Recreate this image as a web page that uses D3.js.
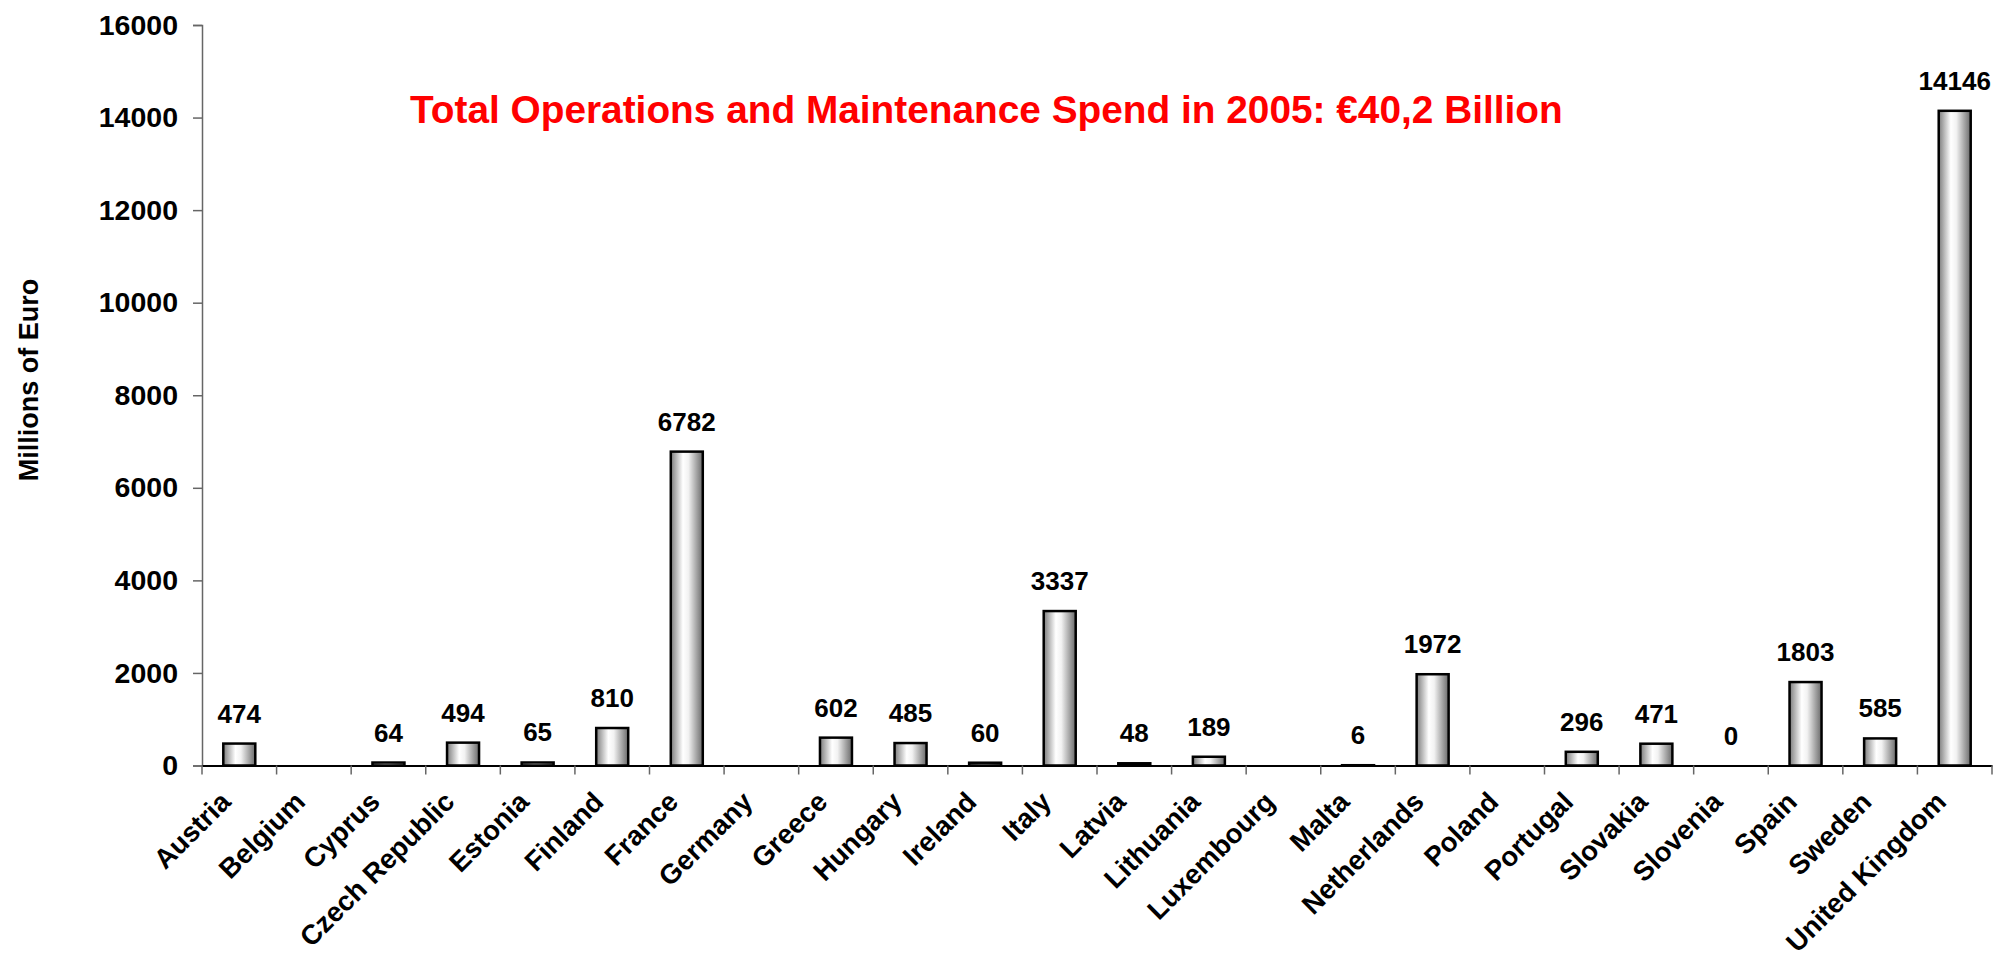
<!DOCTYPE html>
<html>
<head>
<meta charset="utf-8">
<script src="https://cdn.jsdelivr.net/npm/d3@7/dist/d3.min.js"></script>
<style>
  html, body { margin: 0; padding: 0; background: #fff; }
  svg { display: block; font-family: "Liberation Sans", Arial, sans-serif; }
</style>
</head>
<body>
<svg id="chart" width="2009" height="957"></svg>
<script>
const categories = ["Austria","Belgium","Cyprus","Czech Republic","Estonia","Finland","France","Germany","Greece","Hungary","Ireland","Italy","Latvia","Lithuania","Luxembourg","Malta","Netherlands","Poland","Portugal","Slovakia","Slovenia","Spain","Sweden","United Kingdom"];
const values = [474,null,64,494,65,810,6782,null,602,485,60,3337,48,189,null,6,1972,null,296,471,0,1803,585,14146];
const yTicks = [0,2000,4000,6000,8000,10000,12000,14000,16000];
const titleText = "Total Operations and Maintenance Spend in 2005: \u20AC40,2 Billion";
const yTitle = "Millions of Euro";

(function () {
const svg = d3.select("#chart");
const mLeft = 202, mRight = 1992, mTop = 25, mBottom = 765.5;

const x = d3.scaleBand().domain(categories).range([mLeft, mRight]).paddingInner(0).paddingOuter(0);
const y = d3.scaleLinear().domain([0, 16000]).range([mBottom, mTop]);

const defs = svg.append("defs");
const grad = defs.append("linearGradient").attr("id", "barGrad")
  .attr("x1", "0%").attr("x2", "100%").attr("y1", "0%").attr("y2", "0%");
grad.append("stop").attr("offset", "0%").attr("stop-color", "#7c7c7c");
grad.append("stop").attr("offset", "38%").attr("stop-color", "#ffffff");
grad.append("stop").attr("offset", "55%").attr("stop-color", "#f2f2f2");
grad.append("stop").attr("offset", "100%").attr("stop-color", "#6a6a6a");

// Y axis
const yAxis = d3.axisLeft(y).tickValues(yTicks).tickSize(9).tickPadding(15).tickFormat(d3.format("d"));
const gy = svg.append("g").attr("transform", `translate(${mLeft},0)`).call(yAxis);
gy.select(".domain").attr("stroke", "#666").attr("stroke-width", 1.5);
gy.selectAll(".tick line").attr("stroke", "#666").attr("stroke-width", 1.5);
gy.selectAll(".tick text").attr("font-size", 28.5).attr("font-weight", "bold").attr("fill", "#000")
  .attr("font-family", "'Liberation Sans', Arial, sans-serif");

// Bars
const bw = 32;
const barData = categories.map((c, i) => ({c, v: values[i]}));
svg.append("g").selectAll("rect").data(barData.filter(d => d.v !== null && d.v > 0)).join("rect")
  .attr("x", d => x(d.c) + x.bandwidth() / 2 - bw / 2)
  .attr("y", d => y(d.v))
  .attr("width", bw)
  .attr("height", d => Math.max(0, y(0) - y(d.v)))
  .attr("fill", "url(#barGrad)")
  .attr("stroke", "#000")
  .attr("stroke-width", 2.5);

// X axis
const xAxis = d3.axisBottom(x).tickSize(0).tickFormat("");
const gx = svg.append("g").attr("transform", `translate(0,${mBottom})`).call(xAxis);
gx.select(".domain").attr("stroke", "#000").attr("stroke-width", 2);
const boundaries = d3.range(categories.length + 1).map(i => mLeft + i * x.bandwidth());
gx.selectAll("line.bound").data(boundaries).join("line").attr("class", "bound")
  .attr("x1", d => d).attr("x2", d => d).attr("y1", 0).attr("y2", 9)
  .attr("stroke", "#666").attr("stroke-width", 1.5);

// X labels
svg.append("g").selectAll("text").data(categories).join("text")
  .attr("transform", d => `translate(${x(d) + x.bandwidth() / 2 - 7},${mBottom + 38}) rotate(-45)`)
  .attr("text-anchor", "end")
  .attr("font-size", 27.5).attr("font-weight", "bold").attr("fill", "#000")
  .text(d => d);

// Value labels
svg.append("g").selectAll("text").data(barData.filter(d => d.v !== null)).join("text")
  .attr("x", d => x(d.c) + x.bandwidth() / 2)
  .attr("y", d => y(d.v) - 21)
  .attr("text-anchor", "middle")
  .attr("font-size", 26).attr("font-weight", "bold").attr("fill", "#000")
  .text(d => d.v);

// Title
svg.append("text").attr("x", 410).attr("y", 123)
  .attr("font-size", 38.8).attr("font-weight", "bold").attr("fill", "#ff0000")
  .text(titleText);

// Y title
svg.append("text").attr("transform", "translate(38,380) rotate(-90)")
  .attr("text-anchor", "middle")
  .attr("font-size", 27).attr("font-weight", "bold").attr("fill", "#000")
  .text(yTitle);
})();
</script>
</body>
</html>
